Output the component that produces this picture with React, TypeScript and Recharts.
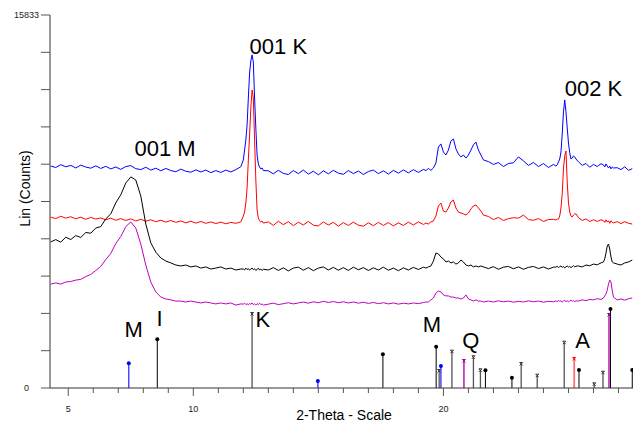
import React from 'react';
import { ComposedChart, Line, XAxis, YAxis, Scatter } from 'recharts';

// 2-Theta scan positions (degrees)
const twoTheta = [
  4.3, 4.5, 4.7, 4.9, 5.1, 5.3, 5.5, 5.7, 5.9, 6.1, 6.3, 6.5, 6.7, 6.9, 7.1, 7.3, 7.5, 7.7, 7.9, 8.1,
  8.3, 8.5, 8.7, 8.9, 9.1, 9.3, 9.5, 9.7, 9.9, 10.1, 10.3, 10.5, 10.7, 10.9, 11.1, 11.3, 11.5, 11.7, 11.9,
  12.0, 12.05, 12.1, 12.15, 12.2, 12.25, 12.3, 12.35, 12.4, 12.45, 12.5, 12.55, 12.6, 12.65, 12.7, 12.75, 12.8,
  13.0, 13.2, 13.4, 13.6, 13.8, 14.0, 14.2, 14.4, 14.6, 14.8, 15.0, 15.2, 15.4, 15.6, 15.8, 16.0,
  16.2, 16.4, 16.6, 16.8, 17.0, 17.2, 17.4, 17.6, 17.8, 18.0, 18.2, 18.4, 18.6, 18.8, 19.0, 19.2,
  19.3, 19.4, 19.5, 19.6, 19.7, 19.8, 19.9, 20.0, 20.1, 20.2, 20.3, 20.4, 20.5, 20.6, 20.7, 20.8,
  20.9, 21.0, 21.1, 21.2, 21.3, 21.4, 21.5, 21.6,
  21.8, 22.0, 22.2, 22.4, 22.6, 22.8, 23.0, 23.2, 23.4, 23.6, 23.8, 24.0, 24.2, 24.4,
  24.5, 24.55, 24.6, 24.65, 24.7, 24.75, 24.8, 24.85, 24.9, 24.95, 25.0, 25.05, 25.1, 25.15, 25.2, 25.25, 25.3,
  25.4, 25.55, 25.7, 25.85, 26.0, 26.15, 26.3,
  26.4, 26.45, 26.5, 26.55, 26.6, 26.65, 26.7, 26.75, 26.8,
  26.95, 27.1, 27.25, 27.4, 27.55,
];

const blueScan = [
  9420, 9360, 9480, 9390, 9450, 9340, 9460, 9380, 9330, 9430, 9320, 9410, 9300, 9380, 9280, 9400, 9440, 9310, 9270, 9370,
  9250, 9330, 9220, 9320, 9230, 9180, 9290, 9200, 9160, 9260, 9170, 9250, 9140, 9230, 9150, 9250, 9170, 9270, 9390,
  9680, 10100, 10530, 11160, 12310, 13370, 13880, 14140, 13840, 12310, 11030, 9890, 9510, 9380, 9300, 9340, 9230,
  9220, 9090, 9240, 9110, 9060, 9230, 9100, 9250, 9080, 9200, 9050, 9220, 9090, 9240, 9120, 9070,
  9230, 9100, 9210, 9060, 9190, 9250, 9100, 9220, 9080, 9240, 9120, 9260, 9130, 9270, 9150, 9280,
  9230, 9320, 9240, 9340, 9550, 10230, 10360, 10020, 9890, 10100, 10490, 10570, 10150, 9930, 9810, 9890,
  9760, 9890, 10100, 10320, 10440, 10100, 9890, 9680,
  9610, 9490, 9570, 9400, 9530, 9560, 9810, 9640, 9450, 9570, 9400, 9530, 9360, 9490,
  9420, 9470, 9590, 9720, 10020, 10780, 11720, 12230, 11720, 11040, 10400, 9980, 9720, 9760, 9850, 9810, 9720,
  9600, 9450, 9530, 9370, 9490, 9400, 9520,
  9470, 9380, 9510, 9420, 9340, 9420, 9300, 9380, 9340,
  9350, 9270, 9390, 9240, 9310,
];

const redScan = [
  7250, 7190, 7290, 7210, 7270, 7180, 7250, 7160, 7240, 7170, 7220, 7140, 7210, 7120, 7190, 7110, 7180, 7090, 7160, 7080,
  7140, 7060, 7120, 7040, 7110, 7030, 7090, 7010, 7080, 7000, 7070, 6990, 7050, 6980, 7040, 6970, 7030, 6990, 7050,
  7300, 7470, 7850, 8490, 9680, 10740, 11890, 12650, 12310, 10530, 8830, 7560, 7220, 7090, 7050, 7090, 7000,
  7050, 6900, 7080, 6930, 7060, 6890, 7040, 6920, 7070, 6910, 6880, 7050, 6920, 7030, 6870, 7020,
  6900, 7040, 6910, 6870, 7010, 6890, 7030, 6900, 7020, 6880, 7010, 6900, 7040, 6920, 7050, 6940,
  7000, 6960, 7050, 7090, 7300, 7730, 7850, 7510, 7470, 7640, 7900, 7980, 7640, 7470, 7430, 7390,
  7340, 7430, 7600, 7730, 7770, 7640, 7510, 7340,
  7280, 7150, 7240, 7110, 7190, 7230, 7210, 7340, 7150, 7120, 7190, 7070, 7150, 7160,
  7130, 7170, 7170, 7300, 7640, 8240, 9340, 9850, 10060, 8740, 7850, 7470, 7300, 7260, 7340, 7390, 7390,
  7230, 7110, 7180, 7070, 7140, 7070, 7140,
  7100, 7030, 7140, 7040, 7100, 6990, 7100, 7030, 7010,
  7060, 6980, 7060, 6990, 6960,
];

const blackScan = [
  6200, 6300, 6190, 6400, 6300, 6470, 6390, 6600, 6570, 6790, 6850, 7180, 7390, 7860, 8200, 8700, 8960, 8830, 8150, 6960,
  6160, 5770, 5520, 5390, 5310, 5220, 5180, 5220, 5140, 5180, 5090, 5140, 5050, 5090, 5140, 5050, 5090, 5010, 5050,
  5050, 5010, 5090, 5030, 5070, 5000, 5050, 5090, 5020, 5060, 4990, 5040, 5080, 5010, 5050, 4990, 5040,
  5010, 5110, 4990, 5100, 4970, 5090, 5130, 5000, 5110, 4980, 5090, 5140, 5010, 5120, 5000, 5110,
  4990, 5130, 5020, 5110, 4990, 5100, 5010, 5130, 5000, 5090, 4980, 5100, 5010, 5120, 5030, 5130,
  5090, 5140, 5180, 5390, 5730, 5690, 5560, 5480, 5350, 5390, 5310, 5350, 5260, 5310, 5430, 5350,
  5220, 5180, 5220, 5140, 5180, 5140, 5180, 5140,
  5070, 5150, 5040, 5130, 5160, 5060, 5140, 5040, 5120, 5160, 5070, 5140, 5050, 5130,
  5130, 5170, 5110, 5150, 5180, 5120, 5160, 5100, 5140, 5180, 5130, 5160, 5110, 5150, 5190, 5140, 5170,
  5180, 5140, 5220, 5190, 5260, 5230, 5310,
  5350, 5480, 5730, 6030, 6110, 5900, 5560, 5350, 5310,
  5260, 5220, 5310, 5350, 5430,
];

const magentaScan = [
  4410, 4460, 4410, 4500, 4520, 4580, 4610, 4730, 4820, 4990, 5160, 5450, 5710, 6130, 6430, 6850, 7050, 6790, 6110, 5220,
  4500, 4080, 3860, 3780, 3740, 3690, 3690, 3650, 3690, 3650, 3610, 3650, 3610, 3570, 3610, 3570, 3610, 3520, 3570,
  3560, 3600, 3540, 3580, 3530, 3590, 3550, 3610, 3540, 3570, 3520, 3580, 3550, 3600, 3540, 3570, 3520,
  3560, 3600, 3540, 3580, 3620, 3570, 3610, 3650, 3600, 3660, 3620, 3680, 3630, 3670, 3620, 3660,
  3610, 3650, 3600, 3640, 3590, 3630, 3580, 3620, 3570, 3610, 3560, 3600, 3570, 3610, 3580, 3630,
  3650, 3650, 3740, 3820, 4030, 4120, 4080, 3950, 3910, 3910, 3860, 3860, 3820, 3820, 3780, 3820,
  3950, 3780, 3740, 3690, 3740, 3690, 3690, 3650,
  3690, 3650, 3700, 3660, 3690, 3640, 3680, 3650, 3700, 3660, 3690, 3640, 3680, 3660,
  3700, 3660, 3720, 3680, 3700, 3650, 3690, 3720, 3670, 3700, 3660, 3690, 3730, 3680, 3710, 3660, 3700,
  3690, 3740, 3710, 3760, 3740, 3790, 3760,
  3820, 3910, 3990, 4160, 4410, 4580, 4500, 4120, 3860,
  3740, 3780, 3730, 3790, 3820,
];

// Reference patterns (stick positions, relative heights in counts)
const montmorilloniteTheta = [7.42, 14.98, 19.9];
const montmorilloniteHeight = [1049, 297, 934];
const illiteTheta = [8.56, 17.58, 19.71, 21.68, 22.74, 25.42, 26.68, 27.55];
const illiteHeight = [2067, 1431, 1753, 751, 437, 764, 3354, 764];
const kaoliniteTheta = [12.35, 19.83, 20.34, 21.2, 21.48, 23.11, 23.75, 24.83, 26.03, 26.38];
const kaoliniteHeight = [3141, 722, 1541, 1303, 751, 1019, 522, 1923, 157, 650];
const quartzTheta = [20.82, 26.62];
const quartzHeight = [1146, 3099];
const anataseTheta = [25.23];
const anataseHeight = [1231];

// Peak annotations
const peakText = ['001 K', '002 K', '001 M'];
const peakTheta = [12.25, 24.85, 7.65];
const peakCounts = [14178, 12395, 9848];
const phaseText = ['M', 'I', 'K', 'M', 'Q', 'A'];
const phaseTheta = [7.25, 8.53, 12.49, 19.17, 20.75, 25.27];
const phaseCounts = [2165, 2632, 2589, 2377, 1698, 1719];

// Axes
const xTicks = [5, 6, 7, 8, 9, 10, 11, 12, 13, 14, 15, 16, 17, 18, 19, 20, 21, 22, 23, 24, 25, 26, 27];
const xTickLabels = [5, 10, 20];
const yTicks = [0, 1583.3, 3166.6, 4749.9, 6333.2, 7916.5, 9499.8, 11083.1, 12666.4, 14249.7, 15833];
const yTickLabels = [0, 15833];

const FONT = '"Liberation Sans", Arial, sans-serif';

const rows = twoTheta.map((t, i) => ({
  t,
  blue: blueScan[i],
  red: redScan[i],
  black: blackScan[i],
  magenta: magentaScan[i],
}));

function stickRows(theta: number[], heights: number[]) {
  return theta.flatMap((t, i) => [
    { t, v: 0 },
    { t, v: heights[i], top: true },
    { t, v: null },
  ]);
}

const textRows = (texts: string[], theta: number[], counts: number[]) =>
  texts.map((label, i) => ({ t: theta[i], v: counts[i], label }));

const XTick = (props: any) => {
  const { x, y, payload } = props;
  const major = xTickLabels.includes(payload.value);
  return (
    <g>
      <line x1={x} x2={x} y1={y} y2={y + (major ? 8 : 5)} stroke="#555" strokeWidth={1} />
      {major && (
        <text x={x} y={y + 24} textAnchor="middle" fontSize={9} fill="#222" fontFamily={FONT}>
          {payload.value}
        </text>
      )}
    </g>
  );
};

const YTick = (props: any) => {
  const { x, y, payload } = props;
  const show = yTickLabels.some((v) => Math.abs(v - payload.value) < 0.5);
  return (
    <g>
      <line x1={x - 9} x2={x} y1={y} y2={y} stroke="#555" strokeWidth={1} />
      {show && (
        <text x={x - 23.5} y={y + 3} textAnchor="middle" fontSize={9} fill="#222" fontFamily={FONT}>
          {Math.round(payload.value)}
        </text>
      )}
    </g>
  );
};

const dotMarker = (color: string) => (p: any) => {
  if (!p.payload || !p.payload.top) return <g key={`n${p.index}`} />;
  return <circle key={`d${p.index}`} cx={p.cx} cy={p.cy} r={2} fill={color} stroke="none" />;
};

const crossMarker = (color: string) => (p: any) => {
  if (!p.payload || !p.payload.top) return <g key={`n${p.index}`} />;
  return (
    <path
      key={`x${p.index}`}
      d={`M${p.cx - 1.5},${p.cy - 1.5}L${p.cx + 1.5},${p.cy + 1.5}M${p.cx + 1.5},${p.cy - 1.5}L${p.cx - 1.5},${p.cy + 1.5}M${p.cx - 1.5},${p.cy - 1.5}L${p.cx + 1.5},${p.cy - 1.5}`}
      stroke={color}
      strokeWidth={1}
      fill="none"
    />
  );
};

const TextShape = (size: number) => (p: any) => (
  <text x={p.cx} y={p.cy} fontSize={size} fill="#000" fontFamily={FONT}>
    {p.payload.label}
  </text>
);

export default function App() {
  return (
    <div style={{ position: 'absolute', left: 0, top: 0, width: 641, height: 423, background: '#fff', fontFamily: FONT }}>
      <ComposedChart
        width={641}
        height={423}
        data={rows}
        margin={{ top: 15, right: 8, left: 0, bottom: 0 }}
      >
        <XAxis
          dataKey="t"
          type="number"
          domain={[4.27, 27.58]}
          allowDataOverflow
          ticks={xTicks}
          interval={0}
          height={35}
          tickSize={0}
          tickMargin={0}
          tickLine={false}
          axisLine={{ stroke: '#333' }}
          tick={<XTick />}
          label={(p: any) => {
            const vb = p.viewBox;
            return (
              <text x={vb.x + vb.width / 2 + 2.5} y={vb.y + 32} textAnchor="middle" fontSize={14} fill="#000" fontFamily={FONT}>
                2-Theta - Scale
              </text>
            );
          }}
        />
        <YAxis
          type="number"
          domain={[0, 15833]}
          allowDataOverflow
          ticks={yTicks}
          interval={0}
          width={50}
          tickSize={0}
          tickMargin={0}
          tickLine={false}
          axisLine={{ stroke: '#333' }}
          tick={<YTick />}
          label={(p: any) => {
            const vb = p.viewBox;
            const cx = 25;
            const cy = vb.y + vb.height / 2 - 13;
            return (
              <text x={cx} y={cy} transform={`rotate(-90, ${cx}, ${cy})`} textAnchor="middle" dominantBaseline="central" fontSize={14} fill="#000" fontFamily={FONT}>
                Lin (Counts)
              </text>
            );
          }}
        />

        <Line data={stickRows(kaoliniteTheta, kaoliniteHeight)} dataKey="v" stroke="#555" strokeWidth={1.3} dot={crossMarker('#333')} activeDot={false} isAnimationActive={false} legendType="none" />
        <Line data={stickRows(illiteTheta, illiteHeight)} dataKey="v" stroke="#000" strokeWidth={1} dot={dotMarker('#000')} activeDot={false} isAnimationActive={false} legendType="none" />
        <Line data={stickRows(montmorilloniteTheta, montmorilloniteHeight)} dataKey="v" stroke="#3030ff" strokeWidth={1.3} dot={dotMarker('#0000ff')} activeDot={false} isAnimationActive={false} legendType="none" />
        <Line data={stickRows(quartzTheta, quartzHeight)} dataKey="v" stroke="#c040c0" strokeWidth={1.8} dot={crossMarker('#a000a0')} activeDot={false} isAnimationActive={false} legendType="none" />
        <Line data={stickRows(anataseTheta, anataseHeight)} dataKey="v" stroke="#ff7070" strokeWidth={1.8} dot={crossMarker('#ff0000')} activeDot={false} isAnimationActive={false} legendType="none" />

        <Line dataKey="blue" stroke="#0000ff" strokeWidth={1} dot={false} activeDot={false} isAnimationActive={false} />
        <Line dataKey="red" stroke="#ff0000" strokeWidth={1} dot={false} activeDot={false} isAnimationActive={false} />
        <Line dataKey="black" stroke="#000000" strokeWidth={1} dot={false} activeDot={false} isAnimationActive={false} />
        <Line dataKey="magenta" stroke="#c000c0" strokeWidth={1} dot={false} activeDot={false} isAnimationActive={false} />

        <Scatter data={textRows(peakText, peakTheta, peakCounts)} dataKey="v" shape={TextShape(22)} isAnimationActive={false} />
        <Scatter data={textRows(phaseText, phaseTheta, phaseCounts)} dataKey="v" shape={TextShape(22)} isAnimationActive={false} />
      </ComposedChart>
    </div>
  );
}
